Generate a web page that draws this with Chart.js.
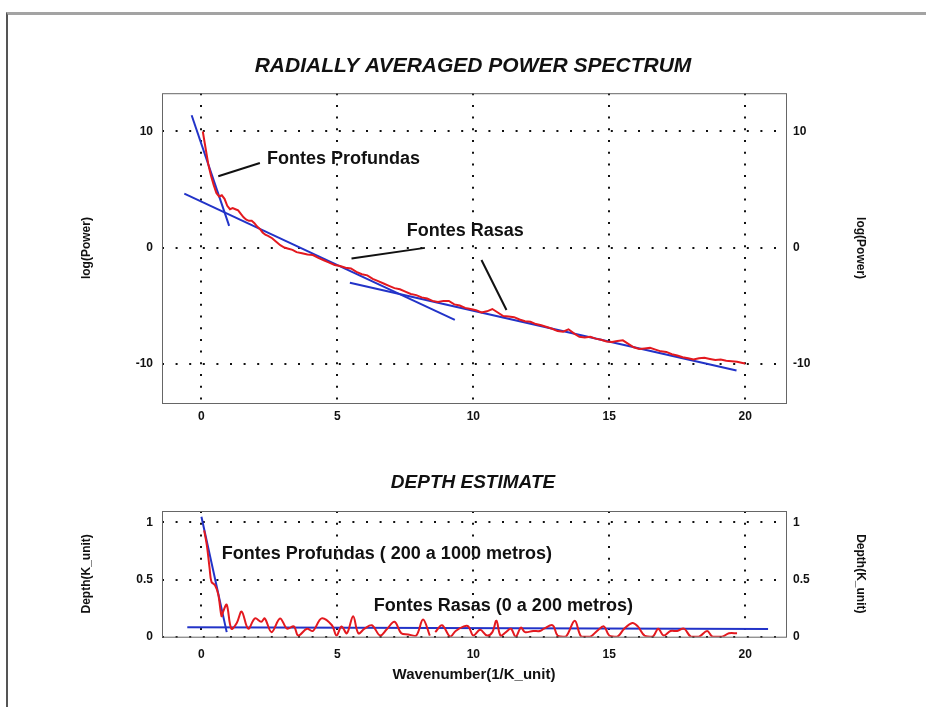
<!DOCTYPE html>
<html>
<head>
<meta charset="utf-8">
<script src="https://cdn.jsdelivr.net/npm/chart.js@4.4.1/dist/chart.umd.min.js"></script>
<style>
  body { margin: 0; background: #fff; }
  #frame { position: absolute; left: 6px; top: 12px; width: 930px; height: 700px;
           border-top: 3px solid #a3a3a3; border-left: 2px solid #555; }
  canvas { position: absolute; left: 0; }
</style>
</head>
<body onload="handleOnLoad()">
<div id="frame"></div>
<canvas id="spectrumChart" width="926" height="440" style="top:0"></canvas>
<canvas id="depthChart" width="926" height="267" style="top:440px"></canvas>
<script>
// power spectrum (red curve)
const wavenumber = [0.05,0.15,0.25,0.35,0.45,0.55,0.65,0.75,0.85,0.95,1.05,1.15,1.25,1.35,1.45,1.55,1.65,1.75,1.85,1.95,
  2.05,2.15,2.25,2.35,2.45,2.6,2.75,2.9,3.05,3.2,3.35,3.5,3.7,3.9,4.1,4.3,4.5,4.7,4.9,5.1,5.3,5.5,5.7,5.9,6.1,6.3,6.5,6.7,6.9,
  7.1,7.3,7.5,7.7,7.9,8.1,8.3,8.5,8.7,8.9,9.1,9.3,9.5,9.7,9.9,10.1,10.3,10.5,10.7,10.9,11.1,11.3,11.5,11.7,11.9,12.1,12.3,
  12.5,12.7,12.9,13.1,13.3,13.5,13.7,13.9,14.1,14.3,14.5,14.7,14.9,15.1,15.3,15.5,15.7,15.9,16.1,16.3,16.5,16.7,16.9,17.1,
  17.3,17.5,17.7,17.9,18.1,18.3,18.5,18.7,18.9,19.1,19.3,19.5,19.7,19.9,20.0];
const logPower = [10.0,8.6,7.2,6.2,5.4,4.7,4.4,4.5,4.2,3.6,3.3,3.4,3.3,3.2,2.9,2.6,2.4,2.3,2.3,2.1,
  1.8,1.6,1.3,1.1,1.0,0.8,0.5,0.2,0.0,-0.1,-0.2,-0.4,-0.5,-0.6,-0.65,-0.9,-1.1,-1.3,-1.5,-1.6,-1.75,-1.8,-2.1,-2.3,-2.4,-2.7,-2.9,-3.1,-3.3,
  -3.5,-3.6,-3.8,-4.0,-4.1,-4.3,-4.4,-4.6,-4.7,-4.6,-4.6,-4.9,-5.0,-5.2,-5.3,-5.4,-5.6,-5.5,-5.3,-5.6,-5.9,-5.95,-6.0,-6.2,-6.35,-6.4,-6.6,
  -6.7,-6.85,-7.0,-7.2,-7.25,-7.05,-7.4,-7.7,-7.75,-7.7,-7.85,-7.95,-8.1,-8.15,-8.05,-8.0,-8.3,-8.6,-8.75,-8.7,-8.65,-8.8,-8.95,-9.0,
  -9.2,-9.3,-9.45,-9.55,-9.65,-9.55,-9.5,-9.6,-9.7,-9.65,-9.75,-9.8,-9.85,-9.95,-10.0];

// fitted straight segments (blue)
const fitDeepX = [-0.36, 1.02],  fitDeepY = [11.4, 1.87];
const fitMidX = [-0.63, 9.32],   fitMidY = [4.64, -6.24];
const fitShallowX = [5.46, 19.68], fitShallowY = [-3.04, -10.6];

// depth estimate (red curve)
const depthK = [0.1,0.2,0.3,0.37,0.5,0.62,0.74,0.8,0.93,1.1,1.3,1.48,1.72,1.97,2.2,2.33,2.58,2.89,3.15,3.4,3.56,3.88,4.1,
  4.42,4.8,4.97,5.15,5.35,5.58,5.77,6.0,6.27,6.57,6.8,7.1,7.35,7.6,7.9,8.15,8.4,8.5,8.6,8.85,9.15,9.35,9.65,9.82,10.0,10.25,
  10.5,10.7,10.85,11.0,11.2,11.38,11.56,11.75,11.9,12.2,12.45,12.6,12.92,13.1,13.4,13.73,13.97,14.3,14.55,14.8,15.0,
  15.3,15.55,15.85,16.05,16.3,16.6,16.8,17.0,17.25,17.5,17.75,18.0,18.3,18.6,18.8,19.15,19.4,19.7];
const depth = [0.93,0.8,0.6,0.48,0.45,0.37,0.18,0.22,0.28,0.07,0.12,0.22,0.07,0.16,0.13,0.16,0.04,0.16,0.07,0.09,0.01,0.07,0.05,
  0.16,0.1,0.01,0.09,0.03,0.18,0.03,0.07,0.1,0.01,0.06,0.13,0.03,0.02,0.01,0.15,0.01,null,0.04,0.1,0.0,0.05,0.09,0.09,0.01,0.06,
  0.01,0.04,0.14,0.01,0.04,0.07,0.0,0.08,0.04,0.05,0.05,0.07,0.1,0.01,0.0,0.14,0.0,0.0,0.05,0.09,0.01,
  0.0,0.07,0.12,0.09,0.01,0.0,0.07,0.01,0.05,0.05,0.07,0.0,0.0,0.05,0.0,0.0,0.03,0.03];
const depthFitDeepX = [0, 0.93],        depthFitDeepY = [1.05, 0.04];
const depthFitShallowX = [-0.52, 20.84], depthFitShallowY = [0.083, 0.068];

// pointer lines and labels (data units)
const pointerDeepX = [0.62, 2.15],   pointerDeepY = [6.14, 7.28];
const pointerRasa1X = [5.52, 8.22],  pointerRasa1Y = [-0.95, -0.03];
const pointerRasa2X = [10.3, 11.22], pointerRasa2Y = [-1.08, -5.38];
const spectrumNotes = [
  { text: 'Fontes Profundas', x: 2.41, y: 7.6 },
  { text: 'Fontes Rasas', x: 7.55, y: 1.43 }
];
const depthNotes = [
  { text: 'Fontes Profundas ( 200 a 1000 metros)', x: 0.75, y: 0.72 },
  { text: 'Fontes Rasas (0 a 200 metros)', x: 6.34, y: 0.27 }
];

const RED = '#e3191f';
const BLUE = '#2233c8';
const FONT = "'Liberation Sans', Arial, sans-serif";

function pts(xs, ys){
  return xs.map((x, i) => ({ x: x, y: ys[i] }))
}

function lineSet(xs, ys, color, width, tension){
  return { data: pts(xs, ys), borderColor: color, borderWidth: width, pointRadius: 0, tension: tension || 0, spanGaps: false }
}

// draws the box around the plot and the text notes
const framePlugin = {
  id: 'frame',
  afterDatasetsDraw(chart, args, opts){
    const a = chart.chartArea, ctx = chart.ctx;
    ctx.save();
    ctx.strokeStyle = '#666';
    ctx.lineWidth = 1;
    ctx.strokeRect(a.left + 0.5, a.top + 0.5, a.right - a.left, a.bottom - a.top);
    ctx.fillStyle = '#111';
    ctx.font = 'bold 18px ' + FONT;
    ctx.textBaseline = 'middle';
    ctx.textAlign = 'left';
    (opts.notes || []).forEach(n => {
      ctx.fillText(n.text, chart.scales.x.getPixelForValue(n.x), chart.scales.y.getPixelForValue(n.y));
    });
    ctx.restore();
  }
}

function yAxis(pos, min, max, step, title, pad, width, titlePad){
  return {
    type: 'linear', position: pos, min: min, max: max,
    ticks: { stepSize: step, includeBounds: false, padding: pad, color: '#111', font: { size: 12, weight: 'bold' },
             callback: v => String(v) },
    grid: { display: pos === 'left', color: '#111', lineWidth: 2, drawTicks: false },
    border: { display: false, dash: [2, 11.6] },
    title: { display: true, text: title, color: '#111', font: { size: 12, weight: 'bold' }, padding: { top: titlePad } },
    afterFit: s => { s.width = width }
  }
}

function makeChart(id, datasets, titleText, titleSize, titlePad, yMin, yMax, yStep, yTitle, xOpts, notes){
  const x = {
    type: 'linear', position: 'bottom', min: -1.45, max: 21.5,
    ticks: { stepSize: 5, includeBounds: false, padding: xOpts.pad, color: '#111', font: { size: 12, weight: 'bold' } },
    grid: { color: '#111', lineWidth: 2, drawTicks: false },
    border: { display: false, dash: [2, 9.7] },
    title: xOpts.title ? { display: true, text: xOpts.title, color: '#111', font: { size: 15, weight: 'bold' }, padding: { top: 4, bottom: 23 } } : { display: false },
    afterFit: s => { s.height = xOpts.height }
  };
  return new Chart(document.getElementById(id), {
    type: 'line',
    data: { datasets: datasets },
    plugins: [framePlugin],
    options: {
      responsive: false,
      animation: false,
      layout: { padding: { left: 70, right: 50, top: 0, bottom: 0 } },
      scales: {
        x: x,
        y: yAxis('left', yMin, yMax, yStep, yTitle, 9, 92, 9.8),
        y2: yAxis('right', yMin, yMax, yStep, yTitle, 7, 90, 8.8)
      },
      plugins: {
        legend: { display: false },
        tooltip: { enabled: false },
        title: { display: true, text: titleText, color: '#111',
                 font: { size: titleSize, style: 'italic', weight: 'bold' }, padding: titlePad },
        frame: { notes: notes }
      }
    }
  });
}

function handleOnLoad(){
  Chart.defaults.font.family = FONT;
  createSpectrum()
  createDepth()
}

function createSpectrum(){
  makeChart('spectrumChart', [
    lineSet(wavenumber, logPower, RED, 2),
    lineSet(fitDeepX, fitDeepY, BLUE, 2),
    lineSet(fitMidX, fitMidY, BLUE, 2),
    lineSet(fitShallowX, fitShallowY, BLUE, 2),
    lineSet(pointerDeepX, pointerDeepY, '#111', 2),
    lineSet(pointerRasa1X, pointerRasa1Y, '#111', 2),
    lineSet(pointerRasa2X, pointerRasa2Y, '#111', 2)
  ], 'RADIALLY AVERAGED POWER SPECTRUM', 21, { top: 54, bottom: 14 },
  -13.4, 13.3, 10, 'log(Power)', { pad: 6, height: 37 }, spectrumNotes)
}

function createDepth(){
  makeChart('depthChart', [
    lineSet(depthK, depth, RED, 2, 0.35),
    lineSet(depthFitDeepX, depthFitDeepY, BLUE, 2),
    lineSet(depthFitShallowX, depthFitShallowY, BLUE, 2)
  ], 'DEPTH ESTIMATE', 19, { top: 31.6, bottom: 16.6 },
  0, 1.1, 0.5, 'Depth(K_unit)', { pad: 11, height: 70.3, title: 'Wavenumber(1/K_unit)' }, depthNotes)
}
</script>
</body>
</html>
